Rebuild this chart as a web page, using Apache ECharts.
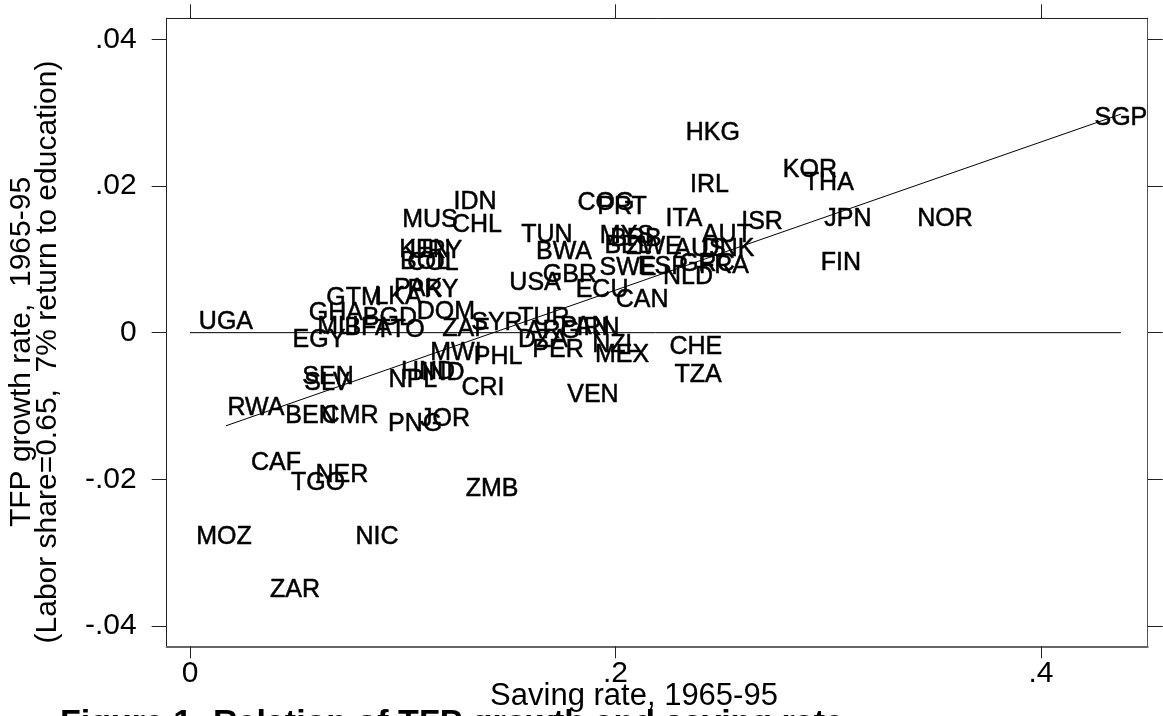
<!DOCTYPE html>
<html><head><meta charset="utf-8">
<script src="https://cdn.jsdelivr.net/npm/echarts@6/dist/echarts.min.js"></script>
<style>html,body{margin:0;padding:0;background:#fff}#c{width:1163px;height:716px}</style>
</head><body><div id="c"></div>
<script>
const countries = ['SGP','HKG','KOR','THA','IRL','ITA','ISR','JPN','NOR','FIN','AUT','DNK','AUS','ZWE','BEL','MYS','BRB','SWE','ESP','GRC','FRA','NLD','COG','PRT','IDN','MUS','CHL','TUN','BWA','KEN','URY','BOL','COL','PAK','PRY','GTM','LKA','GHA','BGD','DOM','MLI','BFA','TTO','EGY','UGA','ZAF','SYR','TUR','ARG','PAN','IRN','DZA','PER','NZL','MEX','CHE','TZA','VEN','CRI','PHL','MWI','HND','IND','NPL','SEN','SLV','RWA','BEN','CMR','PNG','JOR','CAF','NER','TGO','ZMB','MOZ','NIC','ZAR','USA','GBR','ECU','CAN'];
const savingRate = [0.4376,0.2458,0.2914,0.3003,0.2442,0.2322,0.2689,0.3093,0.3549,0.3060,0.2524,0.2529,0.2397,0.2181,0.2059,0.2054,0.2096,0.2059,0.2223,0.2430,0.2510,0.2341,0.1955,0.2031,0.1340,0.1128,0.1349,0.1678,0.1758,0.1105,0.1156,0.1105,0.1142,0.1072,0.1142,0.0771,0.0978,0.0686,0.0940,0.1203,0.0696,0.0837,0.0987,0.0606,0.0169,0.1297,0.1443,0.1664,0.1706,0.1857,0.1918,0.1659,0.1730,0.2002,0.2031,0.2378,0.2388,0.1894,0.1377,0.1448,0.1250,0.1119,0.1189,0.1048,0.0649,0.0644,0.0310,0.0569,0.0752,0.1058,0.1199,0.0404,0.0714,0.0602,0.1420,0.0160,0.0879,0.0494,0.1622,0.1786,0.1937,0.2125];
const tfpGrowth = [0.0293,0.0272,0.0222,0.0204,0.0201,0.0155,0.0151,0.0155,0.0155,0.0095,0.0133,0.0114,0.0114,0.0117,0.0118,0.0132,0.0127,0.0088,0.0090,0.0094,0.0091,0.0076,0.0176,0.0171,0.0178,0.0154,0.0147,0.0133,0.0110,0.0113,0.0111,0.0096,0.0095,0.0060,0.0058,0.0047,0.0049,0.0026,0.0020,0.0028,0.0008,0.0006,0.0004,-0.0010,0.0015,0.0005,0.0013,0.0020,0.0002,0.0008,0.0006,-0.0010,-0.0024,-0.0017,-0.0030,-0.0020,-0.0058,-0.0085,-0.0075,-0.0033,-0.0028,-0.0054,-0.0055,-0.0065,-0.0060,-0.0069,-0.0103,-0.0114,-0.0114,-0.0125,-0.0118,-0.0178,-0.0194,-0.0205,-0.0213,-0.0279,-0.0279,-0.0351,0.0068,0.0079,0.0058,0.0045];
const fitX = [0.0169, 0.4376];
const fitY = [-0.0127, 0.0298];
const zeroX = [0, 0.4376];
const zeroY = [0, 0];
const xTickValues = [0, 0.2, 0.4];
const xTickLabels = ['0', '.2', '.4'];
const yTickValues = [-0.04, -0.02, 0, 0.02, 0.04];
const yTickLabels = ['-.04', '-.02', '0', '.02', '.04'];
const xTitle = 'Saving rate, 1965-95';
const yTitle1 = 'TFP growth rate,  1965-95';
const yTitle2 = '(Labor share=0.65,  7% return to education)';
const caption = 'Figure 1: Relation of TFP growth and saving rate';

const FONT = '"Liberation Sans", Arial, sans-serif';
function lookup(vals, labels, v) {
  for (let i = 0; i < vals.length; i++) if (Math.abs(vals[i] - v) < 1e-9) return labels[i];
  return '';
}
const chart = echarts.init(document.getElementById('c'), null, {renderer: 'canvas'});
chart.setOption({
  animation: false,
  backgroundColor: '#fff',
  grid: {left: 166.7, right: 15.3, top: 18.3, bottom: 69.7, show: false},
  xAxis: [{
    type: 'value', position: 'bottom', min: -0.01095, max: 0.4502,
    axisLine: {show: true, onZero: false, lineStyle: {color: '#666', width: 2}},
    axisTick: {show: true, customValues: xTickValues, length: 12, lineStyle: {color: '#222'}},
    axisLabel: {show: true, customValues: xTickValues, margin: 12, fontSize: 30, color: '#000', fontFamily: FONT,
      formatter: v => lookup(xTickValues, xTickLabels, v)},
    splitLine: {show: false}
  }, {
    type: 'value', position: 'top', min: -0.01095, max: 0.4502,
    axisLine: {show: true, onZero: false, lineStyle: {color: '#222', width: 1}},
    axisTick: {show: true, customValues: xTickValues, length: 14, lineStyle: {color: '#222'}},
    axisLabel: {show: false},
    splitLine: {show: false}
  }],
  yAxis: [{
    type: 'value', position: 'left', min: -0.04277, max: 0.04287,
    axisLine: {show: true, onZero: false, lineStyle: {color: '#222', width: 1}},
    axisTick: {show: true, customValues: yTickValues, length: 15, lineStyle: {color: '#222'}},
    axisLabel: {show: true, customValues: yTickValues, margin: 30, fontSize: 30, color: '#000', fontFamily: FONT,
      formatter: v => lookup(yTickValues, yTickLabels, v)},
    splitLine: {show: false}
  }, {
    type: 'value', position: 'right', min: -0.04277, max: 0.04287,
    axisLine: {show: true, onZero: false, lineStyle: {color: '#555', width: 1}},
    axisTick: {show: true, customValues: yTickValues, length: 15, lineStyle: {color: '#222'}},
    axisLabel: {show: false},
    splitLine: {show: false}
  }],
  series: [{
    type: 'line', xAxisIndex: 0, yAxisIndex: 0, symbol: 'none', silent: true,
    data: zeroX.map((x, i) => [x, zeroY[i]]),
    lineStyle: {color: '#000', width: 1}
  }, {
    type: 'line', xAxisIndex: 0, yAxisIndex: 0, symbol: 'none', silent: true,
    data: fitX.map((x, i) => [x, fitY[i]]),
    lineStyle: {color: '#000', width: 1}
  }, {
    type: 'scatter', xAxisIndex: 0, yAxisIndex: 0, symbol: 'circle', symbolSize: 1,
    itemStyle: {color: 'rgba(0,0,0,0)'},
    emphasis: {disabled: true},
    data: countries.map((c, i) => ({name: c, value: [savingRate[i], tfpGrowth[i]]})),
    label: {show: true, position: 'inside', formatter: '{b}', color: '#000', opacity: 1,
      textBorderColor: '#000', textBorderWidth: 0.5, fontSize: 25, fontFamily: FONT}
  }],
  graphic: [
    {type: 'text', x: 634, y: 696, style: {text: xTitle, fill: '#000', font: '31px ' + FONT, textAlign: 'center', textVerticalAlign: 'middle'}},
    {type: 'text', x: 22, y: 352, rotation: Math.PI / 2, style: {text: yTitle1, fill: '#000', font: '30px ' + FONT, textAlign: 'center', textVerticalAlign: 'middle'}},
    {type: 'text', x: 48, y: 352, rotation: Math.PI / 2, style: {text: yTitle2, fill: '#000', font: '30px ' + FONT, textAlign: 'center', textVerticalAlign: 'middle'}},
    {type: 'text', x: 60, y: 707, style: {text: caption, fill: '#000', font: 'bold 34px ' + FONT, textAlign: 'left', textVerticalAlign: 'top'}}
  ]
});
</script></body></html>
